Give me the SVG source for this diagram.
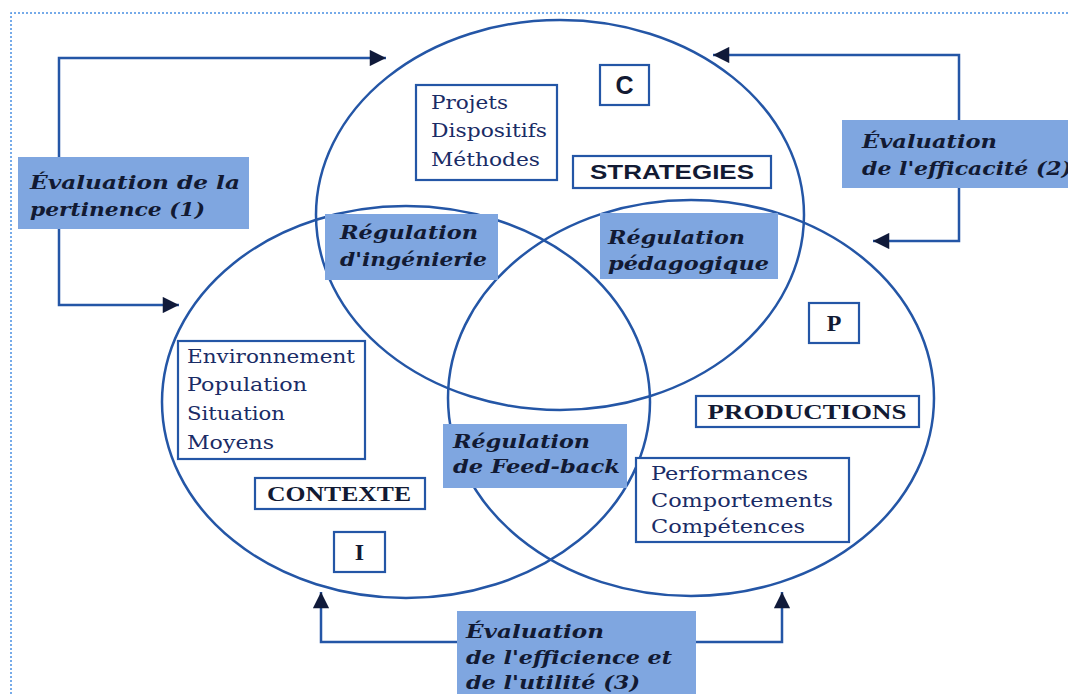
<svg xmlns="http://www.w3.org/2000/svg" width="1068" height="694" viewBox="0 0 1068 694">
<defs>
<style>
.frame{fill:none;stroke:#4a90e2;stroke-width:1.5;stroke-dasharray:2 2}
.circ{fill:none;stroke:#2456a6;stroke-width:2.5}
.box{fill:#ffffff;stroke:#2456a6;stroke-width:2.2}
.fbox{fill:#7fa6e0;stroke:none}
.conn{fill:none;stroke:#2456a6;stroke-width:2.5}
.it{font-family:"DejaVu Serif","Liberation Serif",serif;font-weight:bold;font-style:italic;font-size:19px;fill:#121a33}
.lst{font-family:"DejaVu Serif","Liberation Serif",serif;font-size:18px;fill:#1a2c66}
.ttl{font-family:"Liberation Serif","DejaVu Serif",serif;font-weight:bold;font-size:21px;fill:#121a33}
.ttls{font-family:"Liberation Sans","DejaVu Sans",sans-serif;font-weight:bold;font-size:21px;fill:#121a33}
.bigc{font-family:"Liberation Sans","DejaVu Sans",sans-serif;font-weight:bold;font-size:25px;fill:#121a33}
.let{font-family:"Liberation Serif",serif;font-weight:bold;font-size:24px;fill:#121a33}
</style>
<marker id="ah" viewBox="0 0 10 10" refX="10" refY="5" markerWidth="7" markerHeight="6.5" markerUnits="strokeWidth" orient="auto">
<path d="M0,0 L10,5 L0,10 z" fill="#101a3a"/>
</marker>
</defs>
<rect width="1068" height="694" fill="#ffffff"/>
<path class="frame" d="M11,694 V13 H1068"/>

<g id="circles">
<ellipse id="circle-C" class="circ" cx="560" cy="215" rx="244" ry="195"/>
<ellipse id="circle-I" class="circ" cx="406" cy="402" rx="244" ry="196"/>
<ellipse id="circle-P" class="circ" cx="691" cy="398" rx="243" ry="198"/>
</g>

<g id="connectors">
<path class="conn" d="M59,157 V58 H386" marker-end="url(#ah)"/>
<path class="conn" d="M59,229 V305 H179" marker-end="url(#ah)"/>
<path class="conn" d="M959,120 V55 H713" marker-end="url(#ah)"/>
<path class="conn" d="M959,188 V241 H873" marker-end="url(#ah)"/>
<path class="conn" d="M457,642 H321 V592" marker-end="url(#ah)"/>
<path class="conn" d="M695,642 H782 V592" marker-end="url(#ah)"/>
</g>

<g id="node-C">
<rect class="box" x="600" y="65" width="49" height="40"/>
<text class="bigc" x="624.5" y="94" text-anchor="middle">C</text>
</g>
<g id="node-strategies">
<rect class="box" x="573" y="156" width="198" height="32"/>
<text class="ttls" x="672" y="179" text-anchor="middle" textLength="164" lengthAdjust="spacingAndGlyphs">STRATEGIES</text>
</g>
<g id="node-projets">
<rect class="box" x="416" y="85" width="141" height="95"/>
<text class="lst" x="431" y="109" textLength="77" lengthAdjust="spacingAndGlyphs">Projets</text>
<text class="lst" x="431" y="137" textLength="116" lengthAdjust="spacingAndGlyphs">Dispositifs</text>
<text class="lst" x="431" y="166" textLength="109" lengthAdjust="spacingAndGlyphs">Méthodes</text>
</g>
<g id="node-environnement">
<rect class="box" x="178" y="341" width="187" height="118"/>
<text class="lst" x="187" y="363" textLength="168" lengthAdjust="spacingAndGlyphs">Environnement</text>
<text class="lst" x="187" y="391" textLength="120" lengthAdjust="spacingAndGlyphs">Population</text>
<text class="lst" x="187" y="420" textLength="98" lengthAdjust="spacingAndGlyphs">Situation</text>
<text class="lst" x="187" y="449" textLength="87" lengthAdjust="spacingAndGlyphs">Moyens</text>
</g>
<g id="node-contexte">
<rect class="box" x="255" y="478" width="170" height="31"/>
<text class="ttl" x="339" y="501" text-anchor="middle" textLength="144" lengthAdjust="spacingAndGlyphs">CONTEXTE</text>
</g>
<g id="node-I">
<rect class="box" x="334" y="532" width="51" height="40"/>
<text class="let" x="359.5" y="560" text-anchor="middle">I</text>
</g>
<g id="node-P">
<rect class="box" x="809" y="303" width="50" height="40"/>
<text class="let" x="834" y="331" text-anchor="middle">P</text>
</g>
<g id="node-productions">
<rect class="box" x="696" y="396" width="223" height="31"/>
<text class="ttl" x="807" y="419" text-anchor="middle" textLength="199" lengthAdjust="spacingAndGlyphs">PRODUCTIONS</text>
</g>
<g id="node-performances">
<rect class="box" x="636" y="458" width="213" height="84"/>
<text class="lst" x="651" y="480" textLength="157" lengthAdjust="spacingAndGlyphs">Performances</text>
<text class="lst" x="651" y="507" textLength="182" lengthAdjust="spacingAndGlyphs">Comportements</text>
<text class="lst" x="651" y="533" textLength="154" lengthAdjust="spacingAndGlyphs">Compétences</text>
</g>

<g id="node-reg-ingenierie">
<rect class="fbox" x="325" y="214" width="173" height="66"/>
<text class="it" x="340" y="239" textLength="138" lengthAdjust="spacingAndGlyphs">Régulation</text>
<text class="it" x="340" y="266" textLength="147" lengthAdjust="spacingAndGlyphs">d'ingénierie</text>
</g>
<g id="node-reg-pedagogique">
<rect class="fbox" x="600" y="213" width="178" height="66"/>
<text class="it" x="608" y="244" textLength="137" lengthAdjust="spacingAndGlyphs">Régulation</text>
<text class="it" x="608" y="270" textLength="161" lengthAdjust="spacingAndGlyphs">pédagogique</text>
</g>
<g id="node-reg-feedback">
<rect class="fbox" x="443" y="424" width="184" height="64"/>
<text class="it" x="453" y="448" textLength="137" lengthAdjust="spacingAndGlyphs">Régulation</text>
<text class="it" x="453" y="473" textLength="167" lengthAdjust="spacingAndGlyphs">de Feed-back</text>
</g>

<g id="node-eval-1">
<rect class="fbox" x="18" y="157" width="231" height="72"/>
<text class="it" x="30" y="189" textLength="210" lengthAdjust="spacingAndGlyphs">Évaluation de la</text>
<text class="it" x="30" y="216" textLength="175" lengthAdjust="spacingAndGlyphs">pertinence (1)</text>
</g>
<g id="node-eval-2">
<rect class="fbox" x="842" y="120" width="226" height="68"/>
<text class="it" x="862" y="148" textLength="135" lengthAdjust="spacingAndGlyphs">Évaluation</text>
<text class="it" x="862" y="175" textLength="210" lengthAdjust="spacingAndGlyphs">de l'efficacité (2)</text>
</g>
<g id="node-eval-3">
<rect class="fbox" x="457" y="611" width="239" height="83"/>
<text class="it" x="466" y="638" textLength="138" lengthAdjust="spacingAndGlyphs">Évaluation</text>
<text class="it" x="466" y="664" textLength="206" lengthAdjust="spacingAndGlyphs">de l'efficience et</text>
<text class="it" x="466" y="689" textLength="174" lengthAdjust="spacingAndGlyphs">de l'utilité (3)</text>
</g>
</svg>
